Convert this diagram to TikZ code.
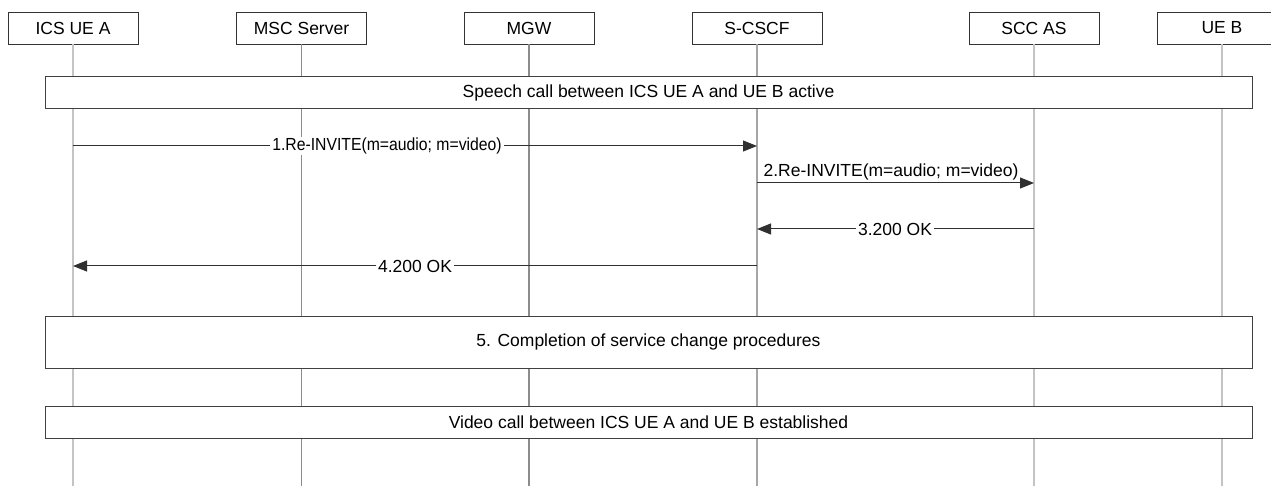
\documentclass[tikz,border=0pt]{standalone}
\usepackage{fontspec}
\setmainfont{Liberation Sans}
\usetikzlibrary{arrows.meta}
\definecolor{boxline}{HTML}{333333}
\definecolor{barline}{HTML}{404040}
\definecolor{msgline}{HTML}{303030}
\definecolor{lifelight}{HTML}{C4C4C4}
\definecolor{lifemid}{HTML}{A6A6A6}
\definecolor{lifedark}{HTML}{8C8C8C}
\tikzset{
  entity/.style={draw=boxline, line width=0.9pt, fill=white, minimum width=130pt, minimum height=32pt, inner sep=0pt, font=\fontsize{17.5}{21}\selectfont},
  bar/.style={draw=barline, line width=1pt, fill=white, minimum width=1207pt, inner sep=0pt, font=\fontsize{17.5}{21}\selectfont},
  life/.style={line width=1.1pt},
  msg/.style={draw=msgline, line width=1pt, -{Triangle[length=14pt,width=11pt]}},
  lbl/.style={fill=white, inner xsep=2pt, inner ysep=1pt, font=\fontsize{17.5}{21}\selectfont},
  lblabove/.style={inner sep=0pt, font=\fontsize{17.5}{21}\selectfont}
}
\begin{document}
\begin{tikzpicture}[x=1pt,y=-1pt]
\useasboundingbox (0,0) rectangle (1271,486);
\clip (0,0) rectangle (1271,486);
% entity boxes
\node[entity] (ua) at (73,28) {ICS UE A};
\node[entity] (msc) at (301.5,28) {MSC Server};
\node[entity] (mgw) at (529,28) {MGW};
\node[entity] (scscf) at (757,28) {S-CSCF};
\node[entity] (scc) at (1034,28) {SCC AS};
\node[entity] (ueb) at (1222,28) {UE B};
% lifeline ends
\coordinate (uaE) at (73,490);
\coordinate (mscE) at (301.5,490);
\coordinate (mgwE) at (529,490);
\coordinate (scscfE) at (757,490);
\coordinate (sccE) at (1034,490);
\coordinate (uebE) at (1222,490);
\begin{scope}[on background layer/.style={}]
\draw[life, lifelight] (ua.south) -- (uaE);
\draw[life, lifedark] (msc.south) -- (mscE);
\draw[life, lifedark] (mgw.south) -- (mgwE);
\draw[life, lifemid] (scscf.south) -- (scscfE);
\draw[life, lifelight] (scc.south) -- (sccE);
\draw[life, lifelight] (ueb.south) -- (uebE);
\end{scope}
% bars
\node[bar, minimum height=32pt] (speech) at (648.5,93) {Speech call between ICS UE A and UE B active};
\node[bar, minimum height=52pt] (compl) at (648.5,342) {5. Completion of service change procedures};
\node[bar, minimum height=32pt] (video) at (648.5,422) {Video call between ICS UE A and UE B established};
% message endpoints
\coordinate (m1a) at (73,146);   \coordinate (m1b) at (757,146);
\coordinate (m2a) at (757,183);  \coordinate (m2b) at (1034,183);
\coordinate (m3a) at (1034,229); \coordinate (m3b) at (757,229);
\coordinate (m4a) at (757,266);  \coordinate (m4b) at (73,266);
% messages
\draw[msg] (m1a) -- (m1b);
\node[lbl] (l1) at (387,146) {\scalebox{0.9}[1]{1.Re-INVITE(m=audio; m=video)}};
\draw[msg] (m2a) -- (m2b);
\node[lblabove] (l2) at (891,172) {2.Re-INVITE(m=audio; m=video)};
\draw[msg] (m3a) -- (m3b);
\node[lbl] (l3) at (895,229) {3.200 OK};
\draw[msg] (m4a) -- (m4b);
\node[lbl] (l4) at (415,266) {4.200 OK};
\end{tikzpicture}
\end{document}
